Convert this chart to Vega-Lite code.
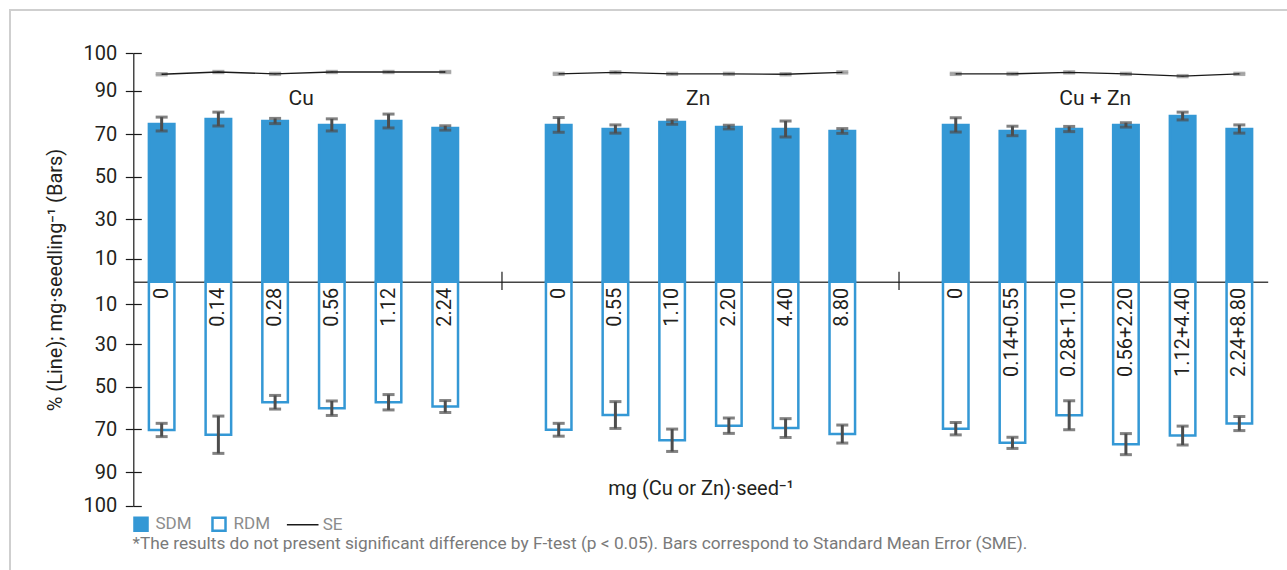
{
  "$schema": "https://vega.github.io/schema/vega-lite/v6.json",
  "width": 1280,
  "height": 565,
  "autosize": "none",
  "padding": {"left": 10, "top": 10, "right": -3, "bottom": -5},
  "background": "#ffffff",
  "config": {
    "font": "Roboto",
    "view": {"stroke": "#cfcfcf", "strokeWidth": 2},
    "axis": {"labelFont": "Roboto", "titleFont": "Roboto"},
    "legend": {"labelFont": "Roboto", "titleFont": "Roboto"}
  },
  "datasets": {
    "bars": [
      {"group": "Cu", "slot": "Cu1", "dose": "0", "series": "SDM", "value": 74.6, "err": 3.2},
      {"group": "Cu", "slot": "Cu2", "dose": "0.14", "series": "SDM", "value": 76.9, "err": 3.2},
      {"group": "Cu", "slot": "Cu3", "dose": "0.28", "series": "SDM", "value": 76.0, "err": 1.2},
      {"group": "Cu", "slot": "Cu4", "dose": "0.56", "series": "SDM", "value": 74.2, "err": 2.8},
      {"group": "Cu", "slot": "Cu5", "dose": "1.12", "series": "SDM", "value": 76.0, "err": 3.2},
      {"group": "Cu", "slot": "Cu6", "dose": "2.24", "series": "SDM", "value": 72.8, "err": 1.0},
      {"group": "Zn", "slot": "Zn1", "dose": "0", "series": "SDM", "value": 74.2, "err": 3.4},
      {"group": "Zn", "slot": "Zn2", "dose": "0.55", "series": "SDM", "value": 72.3, "err": 1.9},
      {"group": "Zn", "slot": "Zn3", "dose": "1.10", "series": "SDM", "value": 75.5, "err": 1.0},
      {"group": "Zn", "slot": "Zn4", "dose": "2.20", "series": "SDM", "value": 73.2, "err": 0.85},
      {"group": "Zn", "slot": "Zn5", "dose": "4.40", "series": "SDM", "value": 72.3, "err": 3.7},
      {"group": "Zn", "slot": "Zn6", "dose": "8.80", "series": "SDM", "value": 71.4, "err": 1.1},
      {"group": "Cu + Zn", "slot": "CuZn1", "dose": "0", "series": "SDM", "value": 74.2, "err": 3.3},
      {"group": "Cu + Zn", "slot": "CuZn2", "dose": "0.14+0.55", "series": "SDM", "value": 71.4, "err": 2.2},
      {"group": "Cu + Zn", "slot": "CuZn3", "dose": "0.28+1.10", "series": "SDM", "value": 72.3, "err": 1.2},
      {"group": "Cu + Zn", "slot": "CuZn4", "dose": "0.56+2.20", "series": "SDM", "value": 74.2, "err": 1.0},
      {"group": "Cu + Zn", "slot": "CuZn5", "dose": "1.12+4.40", "series": "SDM", "value": 78.3, "err": 1.8},
      {"group": "Cu + Zn", "slot": "CuZn6", "dose": "2.24+8.80", "series": "SDM", "value": 72.3, "err": 1.9},
      {"group": "Cu", "slot": "Cu1", "dose": "0", "series": "RDM", "value": -70.3, "err": 3.1},
      {"group": "Cu", "slot": "Cu2", "dose": "0.14", "series": "RDM", "value": -72.5, "err": 8.7},
      {"group": "Cu", "slot": "Cu3", "dose": "0.28", "series": "RDM", "value": -57.3, "err": 3.2},
      {"group": "Cu", "slot": "Cu4", "dose": "0.56", "series": "RDM", "value": -60.1, "err": 3.4},
      {"group": "Cu", "slot": "Cu5", "dose": "1.12", "series": "RDM", "value": -57.3, "err": 3.6},
      {"group": "Cu", "slot": "Cu6", "dose": "2.24", "series": "RDM", "value": -59.3, "err": 2.8},
      {"group": "Zn", "slot": "Zn1", "dose": "0", "series": "RDM", "value": -70.2, "err": 3.0},
      {"group": "Zn", "slot": "Zn2", "dose": "0.55", "series": "RDM", "value": -63.3, "err": 6.3},
      {"group": "Zn", "slot": "Zn3", "dose": "1.10", "series": "RDM", "value": -75.1, "err": 5.2},
      {"group": "Zn", "slot": "Zn4", "dose": "2.20", "series": "RDM", "value": -68.3, "err": 3.6},
      {"group": "Zn", "slot": "Zn5", "dose": "4.40", "series": "RDM", "value": -69.4, "err": 4.4},
      {"group": "Zn", "slot": "Zn6", "dose": "8.80", "series": "RDM", "value": -72.2, "err": 4.2},
      {"group": "Cu + Zn", "slot": "CuZn1", "dose": "0", "series": "RDM", "value": -69.7, "err": 2.9},
      {"group": "Cu + Zn", "slot": "CuZn2", "dose": "0.14+0.55", "series": "RDM", "value": -76.3, "err": 2.6},
      {"group": "Cu + Zn", "slot": "CuZn3", "dose": "0.28+1.10", "series": "RDM", "value": -63.4, "err": 6.8},
      {"group": "Cu + Zn", "slot": "CuZn4", "dose": "0.56+2.20", "series": "RDM", "value": -76.9, "err": 4.9},
      {"group": "Cu + Zn", "slot": "CuZn5", "dose": "1.12+4.40", "series": "RDM", "value": -72.9, "err": 4.4},
      {"group": "Cu + Zn", "slot": "CuZn6", "dose": "2.24+8.80", "series": "RDM", "value": -67.3, "err": 3.3}
    ],
    "se": [
      {"group": "Cu", "slot": "Cu1", "series": "SE", "se": 94.4, "err": 0.25},
      {"group": "Cu", "slot": "Cu2", "series": "SE", "se": 95.0, "err": 0.25},
      {"group": "Cu", "slot": "Cu3", "series": "SE", "se": 94.5, "err": 0.25},
      {"group": "Cu", "slot": "Cu4", "series": "SE", "se": 95.0, "err": 0.25},
      {"group": "Cu", "slot": "Cu5", "series": "SE", "se": 95.0, "err": 0.25},
      {"group": "Cu", "slot": "Cu6", "series": "SE", "se": 95.0, "err": 0.25},
      {"group": "Zn", "slot": "Zn1", "series": "SE", "se": 94.5, "err": 0.25},
      {"group": "Zn", "slot": "Zn2", "series": "SE", "se": 94.9, "err": 0.25},
      {"group": "Zn", "slot": "Zn3", "series": "SE", "se": 94.5, "err": 0.25},
      {"group": "Zn", "slot": "Zn4", "series": "SE", "se": 94.5, "err": 0.25},
      {"group": "Zn", "slot": "Zn5", "series": "SE", "se": 94.4, "err": 0.25},
      {"group": "Zn", "slot": "Zn6", "series": "SE", "se": 94.9, "err": 0.25},
      {"group": "Cu + Zn", "slot": "CuZn1", "series": "SE", "se": 94.5, "err": 0.25},
      {"group": "Cu + Zn", "slot": "CuZn2", "series": "SE", "se": 94.5, "err": 0.25},
      {"group": "Cu + Zn", "slot": "CuZn3", "series": "SE", "se": 94.9, "err": 0.25},
      {"group": "Cu + Zn", "slot": "CuZn4", "series": "SE", "se": 94.5, "err": 0.25},
      {"group": "Cu + Zn", "slot": "CuZn5", "series": "SE", "se": 93.9, "err": 0.25},
      {"group": "Cu + Zn", "slot": "CuZn6", "series": "SE", "se": 94.5, "err": 0.25}
    ],
    "groups": [
      {"slot": "Cu3", "label": "Cu"},
      {"slot": "Zn3", "label": "Zn"},
      {"slot": "CuZn3", "label": "Cu + Zn"}
    ],
    "separators": [
      {"slot": "sep1"},
      {"slot": "sep2"}
    ]
  },
  "encoding": {
    "x": {
      "field": "slot",
      "type": "nominal",
      "sort": null,
      "scale": {
        "type": "band",
        "domain": ["Cu1", "Cu2", "Cu3", "Cu4", "Cu5", "Cu6", "sep1", "Zn1", "Zn2", "Zn3", "Zn4", "Zn5", "Zn6", "sep2", "CuZn1", "CuZn2", "CuZn3", "CuZn4", "CuZn5", "CuZn6"],
        "range": [123.3, 1257.7],
        "paddingInner": 0.5,
        "paddingOuter": 0.25
      }
    }
  },
  "resolve": {"axis": {"y": "independent"}},
  "layer": [
    {
      "data": {"name": "bars"},
      "mark": {"type": "bar", "stroke": "#3498d5", "strokeWidth": 2.5, "width": {"band": 0.9}},
      "encoding": {
        "x": {
          "field": "slot",
          "type": "nominal",
          "sort": null,
          "axis": {
            "orient": "bottom",
            "offset": -293.3,
            "domain": true,
            "domainColor": "#444444",
            "domainWidth": 1.6,
            "ticks": false,
            "labels": false,
            "title": "mg (Cu or Zn)·seed⁻¹",
            "titleFontSize": 20,
            "titleFontWeight": "normal",
            "titleColor": "#231f20",
            "titlePadding": 197
          }
        },
        "y": {
          "field": "value",
          "type": "quantitative",
          "scale": {
            "type": "linear",
            "domain": [-100, -90, -70, -50, -30, -10, 0, 10, 30, 50, 70, 90, 100],
            "range": [495.7, 462.3, 419.3, 376.7, 334, 294, 271.7, 248.7, 209, 166.7, 124, 80.7, 43.3],
            "nice": false,
            "zero": false
          },
          "axis": {
            "orient": "left",
            "offset": -123.3,
            "values": [-100, -90, -70, -50, -30, -10, 10, 30, 50, 70, 90, 100],
            "labelExpr": "'' + abs(datum.value)",
            "domain": true,
            "domainColor": "#1a1a1a",
            "domainWidth": 1.2,
            "tickColor": "#1a1a1a",
            "tickWidth": 1.2,
            "tickSize": 8,
            "labelFontSize": 20,
            "labelColor": "#231f20",
            "labelPadding": 8.6,
            "grid": false,
            "title": "% (Line); mg·seedling⁻¹ (Bars)",
            "titleFontSize": 20,
            "titleFontWeight": "normal",
            "titleColor": "#231f20",
            "titlePadding": 17
          }
        },
        "y2": {"datum": 0},
        "fill": {
          "field": "series",
          "type": "nominal",
          "scale": {"domain": ["SDM", "RDM"], "range": ["#3498d5", "#ffffff"]},
          "legend": {
            "orient": "none",
            "legendX": 122.5,
            "legendY": 505.3,
            "direction": "horizontal",
            "padding": 0,
            "symbolType": "square",
            "symbolSize": 170,
            "symbolStrokeColor": "#3498d5",
            "symbolStrokeWidth": 2.5,
            "labelOffset": 6,
            "columnPadding": 14,
            "labelFontSize": 17,
            "labelColor": "#8c8c8c",
            "title": "*The results do not present significant difference by F-test (p < 0.05). Bars correspond to Standard Mean Error (SME).",
            "titleOrient": "bottom",
            "titleAnchor": "start",
            "titleFontSize": 17.3,
            "titleFontWeight": "normal",
            "titleColor": "#7a7a7a",
            "titleLimit": 1200,
            "titlePadding": -1.5
          }
        }
      }
    },
    {
      "data": {"name": "bars"},
      "mark": {"type": "errorbar", "ticks": {"size": 12}, "thickness": 3, "color": "#4d4d4d"},
      "encoding": {
        "y": {"field": "value", "type": "quantitative", "axis": null},
        "yError": {"field": "err"}
      }
    },
    {
      "data": {"name": "bars"},
      "transform": [{"filter": "datum.series === 'RDM'"}],
      "mark": {"type": "text", "angle": 270, "align": "right", "baseline": "middle", "dx": -6, "fontSize": 20, "color": "#231f20"},
      "encoding": {
        "y": {"datum": 0, "type": "quantitative", "axis": null},
        "text": {"field": "dose"}
      }
    },
    {
      "data": {"name": "se"},
      "mark": {"type": "errorbar", "ticks": {"size": 12}, "thickness": 2.5, "color": "#8a8a8a"},
      "encoding": {
        "y": {"field": "se", "type": "quantitative", "axis": null},
        "yError": {"field": "err"}
      }
    },
    {
      "data": {"name": "se"},
      "mark": {"type": "line", "strokeWidth": 1.4},
      "encoding": {
        "y": {"field": "se", "type": "quantitative", "axis": null},
        "detail": {"field": "group"},
        "stroke": {
          "field": "series",
          "type": "nominal",
          "scale": {"domain": ["SE"], "range": ["#1a1a1a"]},
          "legend": {
            "orient": "none",
            "legendX": 275.7,
            "legendY": 497.8,
            "direction": "horizontal",
            "padding": 0,
            "title": null,
            "symbolType": "stroke",
            "symbolSize": 1000,
            "symbolStrokeWidth": 1.5,
            "labelOffset": 3,
            "labelFontSize": 17,
            "labelColor": "#8c8c8c"
          }
        }
      }
    },
    {
      "data": {"name": "groups"},
      "mark": {"type": "text", "align": "center", "baseline": "middle", "dx": 26, "fontSize": 21, "color": "#231f20"},
      "encoding": {
        "y": {"datum": 86, "type": "quantitative", "axis": null},
        "text": {"field": "label"}
      }
    },
    {
      "data": {"name": "separators"},
      "mark": {"type": "rule", "color": "#1a1a1a", "strokeWidth": 1.2},
      "encoding": {
        "y": {
          "datum": 4.3,
          "type": "quantitative",
          "axis": {
            "orient": "left",
            "offset": -131.3,
            "values": [-100, -90, -70, -50, -30, -10, 10, 30, 50, 70, 90, 100],
            "domain": false,
            "labels": false,
            "grid": false,
            "tickColor": "#1a1a1a",
            "tickWidth": 1.2,
            "tickSize": 8,
            "title": null
          }
        },
        "y2": {"datum": -3.7}
      }
    }
  ]
}
